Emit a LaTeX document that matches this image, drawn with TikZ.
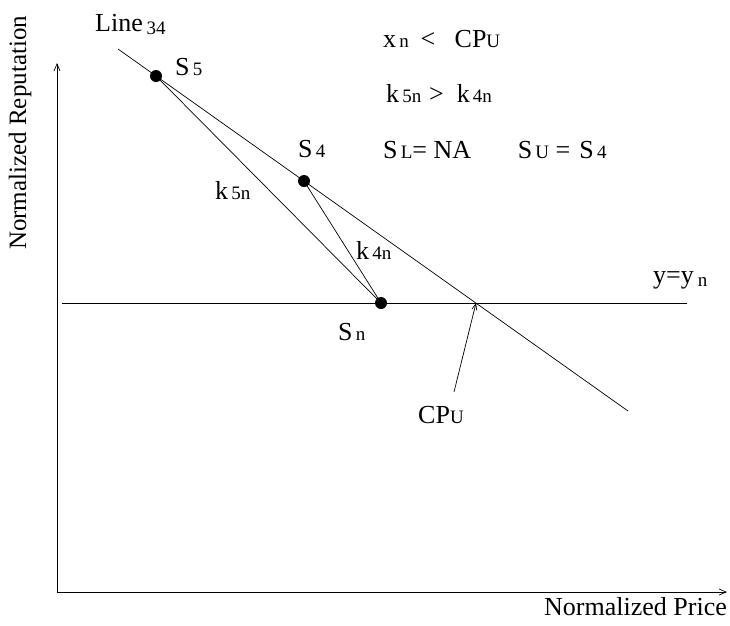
\documentclass[tikz,border=0pt]{standalone}
\usepackage{fontspec}
\setmainfont{Liberation Serif}
\usetikzlibrary{arrows.meta}
% small index text, on the baseline or dropped a little
\newcommand{\lsub}[1]{\hspace{0.12em}{\fontsize{19}{22}\selectfont #1}}
\newcommand{\dsub}[1]{\hspace{0.15em}\raisebox{-3pt}{\fontsize{19}{22}\selectfont #1}}

\begin{document}
\begin{tikzpicture}[
    x=1pt, y=-1pt,
    font=\fontsize{26}{30}\selectfont,
    axis/.style={-{Straight Barb[length=7pt,width=6pt]}, line width=0.7pt},
    thinline/.style={line width=0.7pt},
    pointer/.style={-{Straight Barb[length=6pt,width=5pt]}, line width=0.7pt},
    dot/.style={circle, fill, inner sep=0pt, minimum size=12pt},
    lbl/.style={anchor=base west, inner sep=0pt}
]
\useasboundingbox (0,0) rectangle (730,625);

% axes
\coordinate (origin) at (57,592);
\coordinate (ytip) at (57,63);
\coordinate (xtip) at (727,592);
\draw[axis] (origin) -- (ytip);
\draw[axis] (origin) -- (xtip);
\node[rotate=90, font=\fontsize{25}{30}\selectfont] (ylabel) at (20,133) {Normalized Reputation};
\node[anchor=base east, inner sep=0pt] (xlabel) at (727,615) {Normalized Price};

% level line y = y_n
\coordinate (yna) at (62,303);
\coordinate (ynb) at (687,303);
\draw[thinline] (yna) -- (ynb);

% Line 34
\coordinate (la) at (118,49);
\coordinate (lb) at (628,411);
\draw[thinline] (la) -- (lb);
\coordinate (cpu) at (476,303);

% points
\node[dot] (s5) at (156,76) {};
\node[dot] (s4) at (304,181) {};
\node[dot] (sn) at (381,303) {};
\draw[thinline] (s5.center) -- (sn.center);
\draw[thinline] (s4.center) -- (sn.center);

% arrow to the crossing point
\coordinate (cputail) at (454,392);
\draw[pointer] (cputail) -- (cpu);

% labels
\node[lbl] (linelbl) at (95,31) {Line\dsub{34}};
\node[lbl] (s5lbl) at (175,75) {S\lsub{5}};
\node[lbl] (s4lbl) at (298,157) {S\lsub{4}};
\node[lbl] (k5lbl) at (215,199) {k\lsub{5n}};
\node[lbl] (k4lbl) at (356,259) {k\lsub{4n}};
\node[lbl] (snlbl) at (338,340) {S\lsub{n}};
\node[lbl] (ynlbl) at (653,283) {y=y\dsub{n}};
\node[lbl] (cpulbl) at (418,423) {CP{\fontsize{19}{22}\selectfont U}};

% conditions
\node[lbl] (cond1) at (383,47) {x\lsub{n}\hspace{0.45em}<\hspace{0.75em}CP{\fontsize{19}{22}\selectfont U}};
\node[lbl] (cond2) at (386,102) {k\lsub{5n}\hspace{0.3em}>\hspace{0.5em}k\lsub{4n}};
\node[lbl] (cond3) at (383,158) {S\lsub{L}= NA\hspace{1.8em}S\lsub{U} =\hspace{0.35em}S\lsub{4}};
\end{tikzpicture}
\end{document}
